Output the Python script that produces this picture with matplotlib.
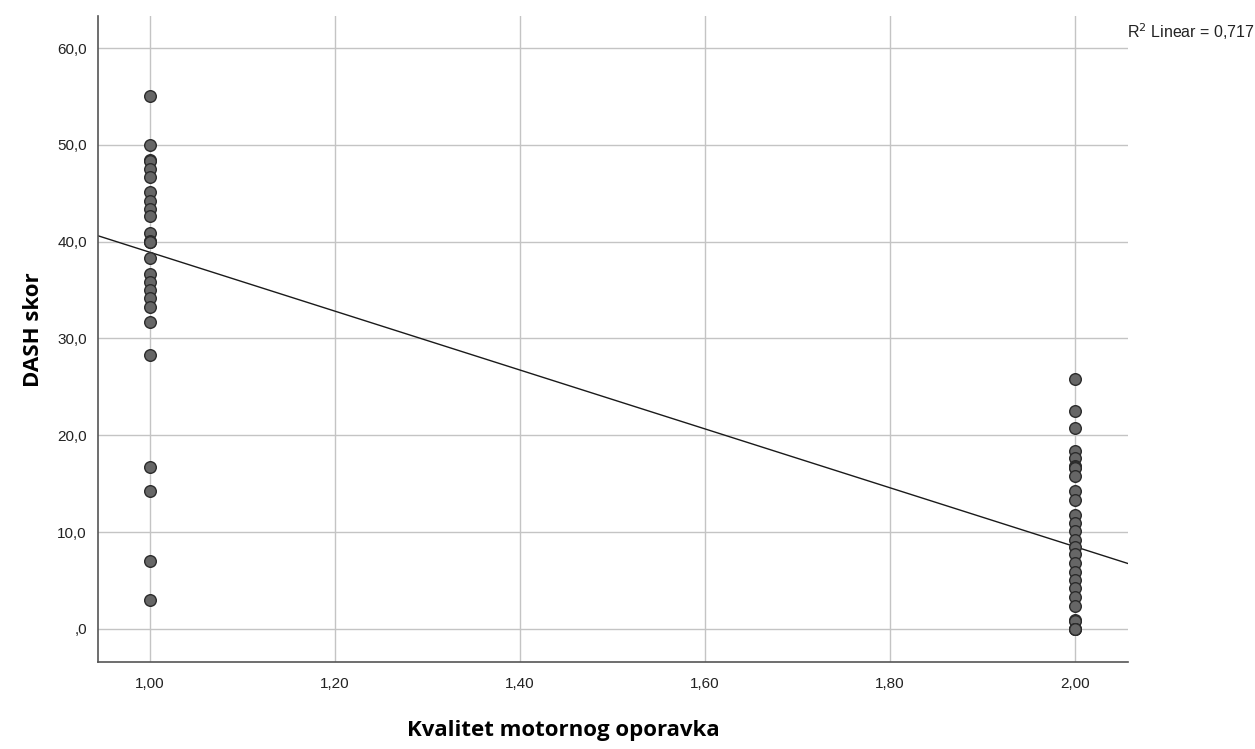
import matplotlib.pyplot as plt
import matplotlib.ticker as mticker

# DASH scores (group 1 = los oporavak, group 2 = dobar)
grp1_x = [1.0] * 26
grp1_y = [55.0, 50.0, 48.4, 48.3, 47.5, 46.7, 45.1, 44.2, 43.4, 42.6,
          40.9, 40.1, 40.0, 40.0, 38.3, 36.7, 35.8, 35.0, 34.2, 33.3,
          31.7, 28.3, 16.7, 14.2, 7.0, 3.0]

grp2_x = [2.0] * 28
grp2_y = [25.8, 22.5, 20.8, 18.4, 17.7, 16.8, 16.7, 16.6, 15.8, 14.2,
          13.3, 11.8, 10.9, 10.1, 9.2, 8.5, 7.7, 6.8, 5.9, 5.1,
          4.2, 3.3, 2.4, 0.9, 0.8, 0.0, 0.0, 0.0]

# fit line
fit_intercept = 69.3
fit_slope = -30.4
r2_text = "R$^2$ Linear = 0,717"

x_ticks = [1.0, 1.2, 1.4, 1.6, 1.8, 2.0]
y_ticks = [0, 10, 20, 30, 40, 50, 60]

plt.rcParams['font.family'] = ['Liberation Sans', 'DejaVu Sans']

fig = plt.figure(figsize=(12.55, 7.49), dpi=100)
ax = fig.add_axes([0.0781, 0.1162, 0.8207, 0.8625])

xmin, xmax = 0.9438, 2.0573
ax.set_xlim(xmin, xmax)
ax.set_ylim(-3.41, 63.31)

ax.grid(True, color='#c4c4c4', lw=1.0)
ax.set_axisbelow(True)

ax.plot([xmin, xmax], [fit_intercept + fit_slope * xmin, fit_intercept + fit_slope * xmax],
        color='#1a1a1a', lw=1.0, zorder=2)

ax.scatter(grp1_x, grp1_y, s=70, c='#666666', edgecolors='#2b2b2b', linewidths=1.0, zorder=3)
ax.scatter(grp2_x, grp2_y, s=70, c='#666666', edgecolors='#2b2b2b', linewidths=1.0, zorder=3)

ax.set_xticks(x_ticks)
ax.set_yticks(y_ticks)
ax.xaxis.set_major_formatter(mticker.FuncFormatter(lambda v, p: f"{v:.2f}".replace('.', ',')))
ax.yaxis.set_major_formatter(mticker.FuncFormatter(
    lambda v, p: ",0" if v == 0 else f"{v:.1f}".replace('.', ',')))
ax.tick_params(length=0, labelsize=11, colors='#222222')
ax.tick_params(axis='y', pad=8)
ax.tick_params(axis='x', pad=11)

for s in ['top', 'right']:
    ax.spines[s].set_visible(False)
for s in ['left', 'bottom']:
    ax.spines[s].set_color('#555555')
    ax.spines[s].set_linewidth(1.2)

fig.text(0.449, 0.025, "Kvalitet motornog oporavka", ha='center', va='center',
         fontsize=16, fontweight='bold', family=['Open Sans', 'DejaVu Sans'])
fig.text(0.018, 0.56, "DASH skor", ha='left', va='center', rotation=90,
         fontsize=16, fontweight='bold', family=['Open Sans', 'DejaVu Sans'])
fig.text(0.898, 0.958, r2_text, ha='left', va='center', fontsize=11.5, color='#222222')

fig.savefig("out.png", dpi=100)
